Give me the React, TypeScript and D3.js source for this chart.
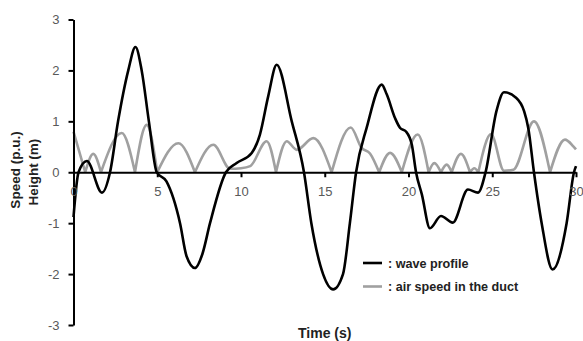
import { useEffect, useRef } from 'react';
import * as d3 from 'd3';

// wave profile (black)
const waveTime = [0, 0.3, 0.8, 1.7, 2.18, 2.66, 3.27, 3.7, 4.07, 4.5, 4.97, 5.55, 6.36, 6.75, 7.25, 7.7, 8.15, 9.1, 9.74, 10.64, 11.13, 11.63, 12.13, 13.03, 13.76, 14.2, 14.9, 15.5, 16.09, 16.5, 16.87, 17.5, 18.4, 18.7, 19.2, 19.5, 19.85, 20.2, 20.45, 20.8, 21.28, 21.94, 22.64, 23.55, 24.15, 24.6, 25.25, 25.7, 26.4, 26.9, 27.15, 27.49, 27.95, 28.6, 29.44, 29.88, 30];
const waveHeight = [-0.88, 0, 0.22, -0.4, 0, 1.0, 2.0, 2.46, 2.0, 1.0, 0, -0.18, -1.0, -1.65, -1.88, -1.6, -1.0, 0, 0.18, 0.38, 0.74, 1.5, 2.11, 1.0, 0, -1.0, -2.0, -2.3, -2.0, -1.0, 0, 0.87, 1.72, 1.53, 1.06, 0.87, 0.8, 0.54, 0, -0.44, -1.1, -0.86, -0.99, -0.34, -0.4, 0, 1.2, 1.57, 1.47, 1.2, 0.87, 0, -1.0, -1.91, -1.0, 0, 0.12];

// air speed in the duct (grey)
const airTime = [0, 0.7, 1.18, 1.64, 2.88, 3.67, 4.37, 5.0, 6.26, 7.25, 8.35, 9.35, 10.0, 10.55, 11.53, 12.09, 12.73, 13.33, 14.32, 15.41, 16.55, 17.2, 17.7, 18.25, 18.9, 19.6, 20.55, 21.2, 21.54, 21.94, 22.28, 22.58, 23.13, 23.67, 23.93, 24.17, 24.93, 25.7, 26.26, 27.49, 28.45, 29.34, 29.84, 30];
const airSpeed = [0.8, 0, 0.36, 0, 0.77, 0, 0.93, 0, 0.57, 0, 0.54, 0.07, 0.08, 0.12, 0.61, 0, 0.61, 0.44, 0.67, 0, 0.88, 0.48, 0.37, 0, 0.38, 0, 0.74, 0, 0.18, 0, 0.15, 0, 0.36, 0, 0.08, 0, 0.75, 0.03, 0.05, 1.0, 0, 0.64, 0.51, 0.45];

const xTicks = [0, 5, 10, 15, 20, 25, 30];
const yTicks = [-3, -2, -1, 0, 1, 2, 3];
const legendLabels = [': wave profile', ': air speed in the duct'];

const App = () => {
  const svgRef = useRef<SVGSVGElement>(null);

  useEffect(() => {
    const width = 583;
    const height = 341;
    const margin = { top: 19.5, right: 7, bottom: 16, left: 73.5 };
    const colors = ['#000000', '#a0a0a0'];
    const tickFont = '"Liberation Sans", Arial, sans-serif';

    const svg = d3.select(svgRef.current)
      .attr('width', width)
      .attr('height', height)
      .style('position', 'absolute')
      .style('left', '0px')
      .style('top', '0px')
      .style('background-color', '#ffffff');

    svg.selectAll('*').remove();

    const x = d3.scaleLinear().domain([0, 30]).range([margin.left, width - margin.right]);
    const y = d3.scaleLinear().domain([-3, 3]).range([325, margin.top]);

    const line = d3.line<[number, number]>()
      .x(d => x(d[0]))
      .y(d => y(d[1]))
      .curve(d3.curveMonotoneX);

    // grey humps: split at the zeros so each cusp stays sharp
    const airPts: [number, number][] = airTime.map((t, i) => [t, airSpeed[i]]);
    const segments: [number, number][][] = [];
    let cur: [number, number][] = [];
    airPts.forEach(p => {
      cur.push(p);
      if (p[1] === 0 && cur.length > 1) {
        segments.push(cur);
        cur = [p];
      }
    });
    if (cur.length > 1) segments.push(cur);

    svg.append('path')
      .attr('d', segments.map(s => line(s)).join(''))
      .attr('fill', 'none')
      .attr('stroke', colors[1])
      .attr('stroke-width', 2.6);

    // black wave profile
    svg.append('path')
      .attr('d', line(waveTime.map((t, i) => [t, waveHeight[i]] as [number, number])))
      .attr('fill', 'none')
      .attr('stroke', colors[0])
      .attr('stroke-width', 2.6);

    // Y axis
    const yAxis = svg.append('g')
      .attr('transform', `translate(${margin.left},0)`)
      .call(d3.axisLeft(y).tickValues(yTicks).tickFormat(d => String(d)).tickSize(5).tickSizeOuter(0).tickPadding(9));
    yAxis.select('.domain').attr('stroke', '#000').attr('stroke-width', 2);
    yAxis.selectAll('.tick line').attr('stroke', '#000').attr('stroke-width', 2);
    yAxis.selectAll('.tick text')
      .attr('font-family', tickFont)
      .attr('font-size', 13)
      .attr('fill', '#595959');

    // X axis at y = 0
    const xAxis = svg.append('g')
      .attr('transform', `translate(0,${y(0)})`)
      .call(d3.axisBottom(x).tickValues(xTicks).tickFormat(d => String(d)).tickSize(5).tickSizeOuter(0).tickPadding(10));
    xAxis.select('.domain').attr('stroke', '#000').attr('stroke-width', 2);
    xAxis.selectAll('.tick line').attr('stroke', '#000').attr('stroke-width', 2);
    xAxis.selectAll('.tick text')
      .attr('font-family', tickFont)
      .attr('font-size', 13)
      .attr('fill', '#595959');

    // Axis titles
    const titleFont = '"Liberation Sans", Arial, sans-serif';
    svg.append('text')
      .attr('transform', `translate(20,170)rotate(-90)`)
      .attr('text-anchor', 'middle')
      .attr('font-family', titleFont)
      .attr('font-weight', 'bold')
      .attr('font-size', 13.5)
      .attr('fill', '#222')
      .text('Speed (p.u.)');
    svg.append('text')
      .attr('transform', `translate(38,172)rotate(-90)`)
      .attr('text-anchor', 'middle')
      .attr('font-family', titleFont)
      .attr('font-weight', 'bold')
      .attr('font-size', 13.5)
      .attr('fill', '#222')
      .text('Height (m)');
    svg.append('text')
      .attr('x', (x(0) + x(30)) / 2)
      .attr('y', 338)
      .attr('text-anchor', 'middle')
      .attr('font-family', titleFont)
      .attr('font-weight', 'bold')
      .attr('font-size', 14)
      .attr('fill', '#222')
      .text('Time (s)');

    // Legend
    const legend = svg.append('g').attr('transform', 'translate(363,263)');
    legendLabels.forEach((label, i) => {
      const g = legend.append('g').attr('transform', `translate(0,${i * 23.5})`);
      g.append('line')
        .attr('x1', 0).attr('x2', 19)
        .attr('stroke', colors[i])
        .attr('stroke-width', 2.6);
      g.append('text')
        .attr('x', 25)
        .attr('y', 4.5)
        .attr('font-family', titleFont)
        .attr('font-weight', 'bold')
        .attr('font-size', 12.6)
        .attr('fill', '#222')
        .text(label);
    });
  }, []);

  return <svg ref={svgRef}></svg>;
};

export default App;
